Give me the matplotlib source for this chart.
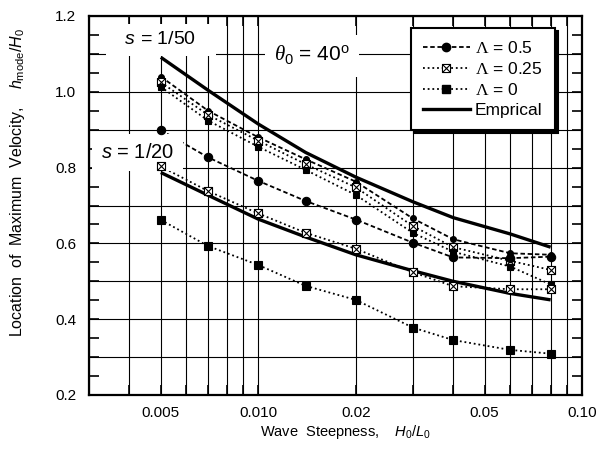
import matplotlib
matplotlib.use("Agg")
import matplotlib.pyplot as plt
from matplotlib.path import Path
from matplotlib.lines import Line2D
from matplotlib.ticker import FixedLocator, LogLocator, NullFormatter, MultipleLocator, FuncFormatter

plt.rcParams['font.family'] = ['Liberation Sans', 'DejaVu Sans']
plt.rcParams['mathtext.fontset'] = 'custom'
plt.rcParams['mathtext.rm'] = 'Liberation Sans'
plt.rcParams['mathtext.it'] = 'Liberation Sans:italic'
plt.rcParams['mathtext.sf'] = 'Liberation Serif'
plt.rcParams['mathtext.cal'] = 'Liberation Serif:italic'

# wave steepness H0/L0
steepness = [0.005, 0.007, 0.010, 0.014, 0.020, 0.030, 0.040, 0.060, 0.080]

# s = 1/50
s50_lam05 = [1.040, 0.950, 0.880, 0.822, 0.763, 0.666, 0.611, 0.574, 0.570]
s50_lam025 = [1.025, 0.939, 0.871, 0.809, 0.748, 0.646, 0.590, 0.554, 0.530]
s50_lam0 = [1.013, 0.924, 0.855, 0.794, 0.728, 0.628, 0.578, 0.539, 0.492]
s50_emp = [1.091, 1.004, 0.915, 0.840, 0.775, 0.710, 0.668, 0.625, 0.590]

# s = 1/20
s20_lam05 = [0.899, 0.827, 0.765, 0.712, 0.663, 0.602, 0.563, 0.561, 0.565]
s20_lam025 = [0.803, 0.738, 0.679, 0.628, 0.586, 0.524, 0.487, 0.479, 0.479]
s20_lam0 = [0.662, 0.593, 0.543, 0.488, 0.451, 0.378, 0.345, 0.319, 0.309]
s20_emp = [0.787, 0.727, 0.664, 0.617, 0.570, 0.528, 0.500, 0.468, 0.451]

xtick_vals = [0.005, 0.01, 0.02, 0.05, 0.1]
xtick_text = ['0.005', '0.010', '0.02', '0.05', '0.10']

# square with a cross inside
crossbox = Path([(-1, -1), (1, -1), (1, 1), (-1, 1), (-1, -1),
                 (-1, -1), (1, 1), (-1, 1), (1, -1)],
                [Path.MOVETO, Path.LINETO, Path.LINETO, Path.LINETO, Path.CLOSEPOLY,
                 Path.MOVETO, Path.LINETO, Path.MOVETO, Path.LINETO])

dash_ls = (0, (2.5, 1.5))
dot_ls = (0, (1, 1.6))

fig = plt.figure(figsize=(6.1, 4.55), dpi=100)
ax = fig.add_axes([89/610, 60/455, 493/610, 379/455])

series = [
    (s50_lam05, dash_ls, 'o', 4.2, 'k'),
    (s50_lam025, dot_ls, crossbox, 5.8, 'w'),
    (s50_lam0, dot_ls, 's', 4.0, 'k'),
    (s20_lam05, dash_ls, 'o', 6.0, 'k'),
    (s20_lam025, dot_ls, crossbox, 5.8, 'w'),
    (s20_lam0, dot_ls, 's', 6.2, 'k'),
]
for y, ls, mk, ms, fc in series:
    ax.plot(steepness, y, color='k', ls=ls, lw=1.3, zorder=2)
    ax.plot(steepness, y, ls='none', marker=mk, ms=ms, mfc=fc, mec='k',
            mew=0.8, zorder=5)

ax.plot(steepness, s50_emp, color='k', lw=2.4, solid_capstyle='butt', zorder=3)
ax.plot(steepness, s20_emp, color='k', lw=2.4, solid_capstyle='butt', zorder=3)

ax.set_xscale('log')
ax.set_xlim(0.003, 0.1)
ax.set_ylim(0.2, 1.2)

ax.xaxis.set_major_locator(FixedLocator(xtick_vals))
ax.xaxis.set_major_formatter(FuncFormatter(lambda v, p: xtick_text[xtick_vals.index(v)] if v in xtick_vals else ''))
ax.xaxis.set_minor_locator(LogLocator(base=10, subs=range(1, 10), numticks=20))
ax.xaxis.set_minor_formatter(NullFormatter())

ax.yaxis.set_major_locator(MultipleLocator(0.1))
ax.yaxis.set_major_formatter(FuncFormatter(lambda v, p: f'{v:.1f}' if round(v * 10) % 2 == 0 else ''))
ax.yaxis.set_minor_locator(MultipleLocator(0.05))

ax.tick_params(which='both', direction='in', top=True, right=True,
               length=7, width=1.2, labelsize=11)
ax.tick_params(axis='y', pad=9)
ax.tick_params(axis='x', pad=8)

ax.set_axisbelow(True)
ax.grid(True, which='both', axis='x', color='k', lw=0.8)
ax.grid(True, which='major', axis='y', color='k', lw=0.8)
for sp in ax.spines.values():
    sp.set_linewidth(1.6)

ax.set_xlabel(r'Wave  Steepness,    $H_{\rm 0}/L_{\rm 0}$', fontsize=10.5)
ax.set_ylabel(r'Location  of  Maximum  Velocity,    $h_{\rm mode}/H_{\rm 0}$', fontsize=11.5)
ax.xaxis.set_label_coords(0.52, -0.075)
ax.yaxis.set_label_coords(-0.125, 0.56)

ax.text(0.146, 0.937, r'  $s$ = 1/50   ', transform=ax.transAxes, fontsize=14,
        ha='center', va='center', zorder=4,
        bbox=dict(boxstyle='square,pad=0.4', fc='white', ec='none'))
ax.text(0.098, 0.639, r'$s$ = 1/20', transform=ax.transAxes, fontsize=14.5,
        ha='center', va='center', zorder=4,
        bbox=dict(boxstyle='square,pad=0.45', fc='white', ec='none'))
ax.text(0.452, 0.895, r'$\mathcal{\theta}_{\rm 0}$ = 40$^{\rm o}$', transform=ax.transAxes,
        fontsize=15, ha='center', va='center', zorder=4,
        bbox=dict(boxstyle='square,pad=0.45', fc='white', ec='none'))

handles = [
    Line2D([], [], color='k', ls=dash_ls, lw=1.3, marker='o', ms=6.0, mfc='k', mec='k'),
    Line2D([], [], color='k', ls=dot_ls, lw=1.3, marker=crossbox, ms=5.8, mfc='w', mec='k', mew=0.8),
    Line2D([], [], color='k', ls=dot_ls, lw=1.3, marker='s', ms=6.2, mfc='k', mec='k'),
    Line2D([], [], color='k', lw=2.4),
]
labels = [r'$\mathsf{\Lambda}$ = 0.5', r'$\mathsf{\Lambda}$ = 0.25', r'$\mathsf{\Lambda}$ = 0', 'Emprical']
leg = ax.legend(handles, labels, loc='upper right', bbox_to_anchor=(0.945, 0.968),
                fontsize=12.5, frameon=True, fancybox=False, shadow={'color': 'k', 'alpha': 1},
                edgecolor='k', handlelength=2.7, handletextpad=0.3, labelspacing=0.28,
                borderpad=0.7, borderaxespad=0)
leg.get_frame().set_linewidth(1.5)
leg.get_frame().set_alpha(None)
leg.get_frame().set_facecolor('white')
leg.set_zorder(6)

fig.savefig('out.png', dpi=100)
